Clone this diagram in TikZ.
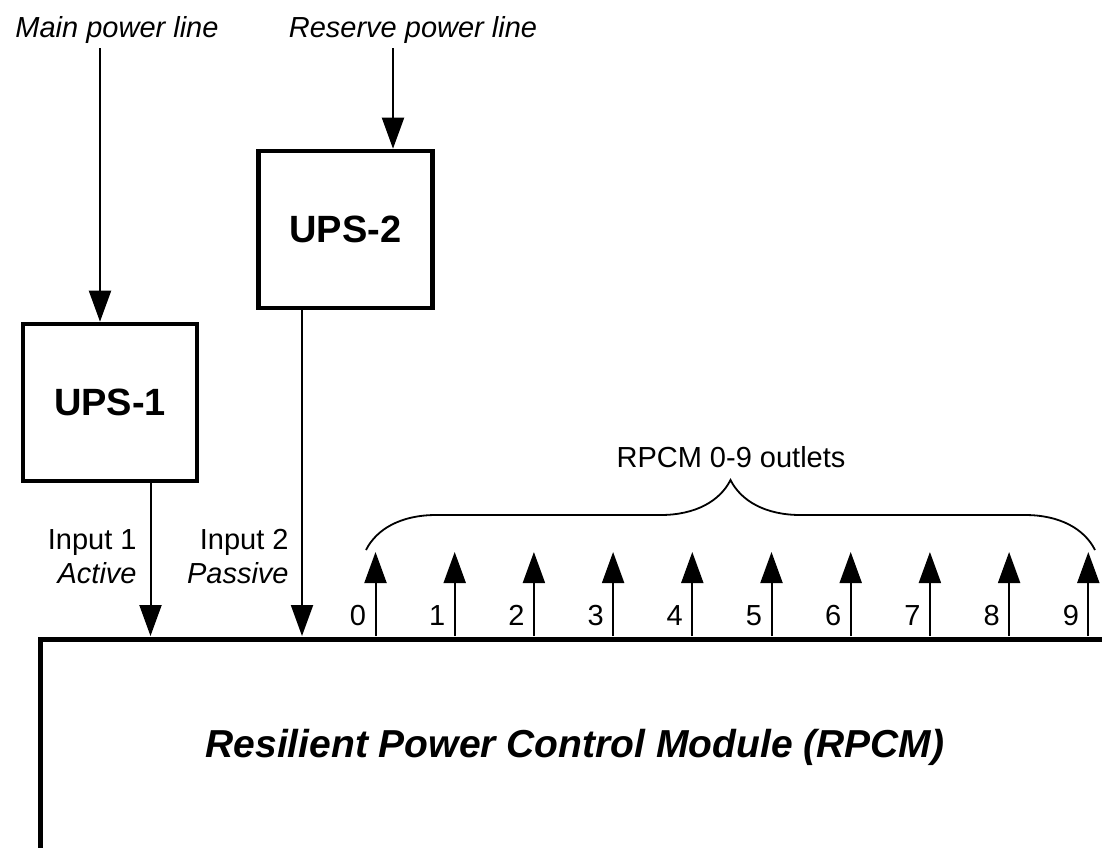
\documentclass[tikz,border=0pt]{standalone}
\usepackage{fontspec}
\setmainfont{Liberation Sans}
\usetikzlibrary{arrows.meta,positioning,calc,decorations.pathreplacing}

\begin{document}
\begin{tikzpicture}[x=0.5pt,y=-0.5pt,font=\fontsize{14.5}{17}\selectfont,>=Triangle]
\tikzset{box/.style={draw,line width=2.3pt,minimum width=87pt,minimum height=78.5pt,inner sep=0pt,font=\fontsize{19}{22}\selectfont\bfseries}, flow/.style={-{Triangle[length=15.5pt,width=11pt]},line width=1pt}, lbl/.style={inner sep=0pt}}
\clip (0,0) rectangle (1102,847);
\node[box] (ups1) at (110,402.5) {UPS-1};
\node[box] (ups2) at (345.5,229.5) {UPS-2};
\node[draw,line width=2.4pt,minimum width=600pt,minimum height=200pt,anchor=north west] (rpcm) at (38,637) {};
\node[lbl,font=\fontsize{19.5}{22}\selectfont\bfseries\itshape,anchor=base] (rpcmname) at (575,757) {Resilient Power Control Module (RPCM)};
\node[lbl,anchor=base] (mainline) at (117,37.5) {\itshape Main power line};
\node[lbl,anchor=base] (resline) at (413,37.5) {\itshape Reserve power line};
\coordinate (mainsrc) at (100,48);
\coordinate (ressrc) at (393,48);
\draw[flow] (mainsrc) -- (mainsrc |- ups1.north);
\draw[flow] (ressrc) -- (ressrc |- ups2.north);
% inputs
\coordinate (in1) at (150.5,636);
\coordinate (in2) at (302,636);
\draw[flow] (ups1.south -| in1) -- (in1);
\draw[flow] (ups2.south -| in2) -- (in2);
\node[lbl,align=right,anchor=east] (in1lbl) at (137,556.5) {Input 1\\\textit{Active}};
\node[lbl,align=right,anchor=east] (in2lbl) at (289,556.5) {Input 2\\\textit{Passive}};
% outlets
\foreach \i in {0,...,9}{
  \coordinate (out\i) at ({375.5+79.2*\i},636);
  \coordinate (tip\i) at ({375.5+79.2*\i},552);
  \draw[flow] (out\i) -- (tip\i);
  \node[lbl,anchor=base] (num\i) at ({358+79.2*\i},625) {\i};
}
\coordinate (bl) at (366,550);
\coordinate (br) at (1095,550);
\draw[decorate,decoration={brace,amplitude=35pt},line width=0.9pt] (bl) -- (br);
\node[lbl,anchor=base] (outletlbl) at (731,467) {RPCM 0-9 outlets};
\end{tikzpicture}
\end{document}
